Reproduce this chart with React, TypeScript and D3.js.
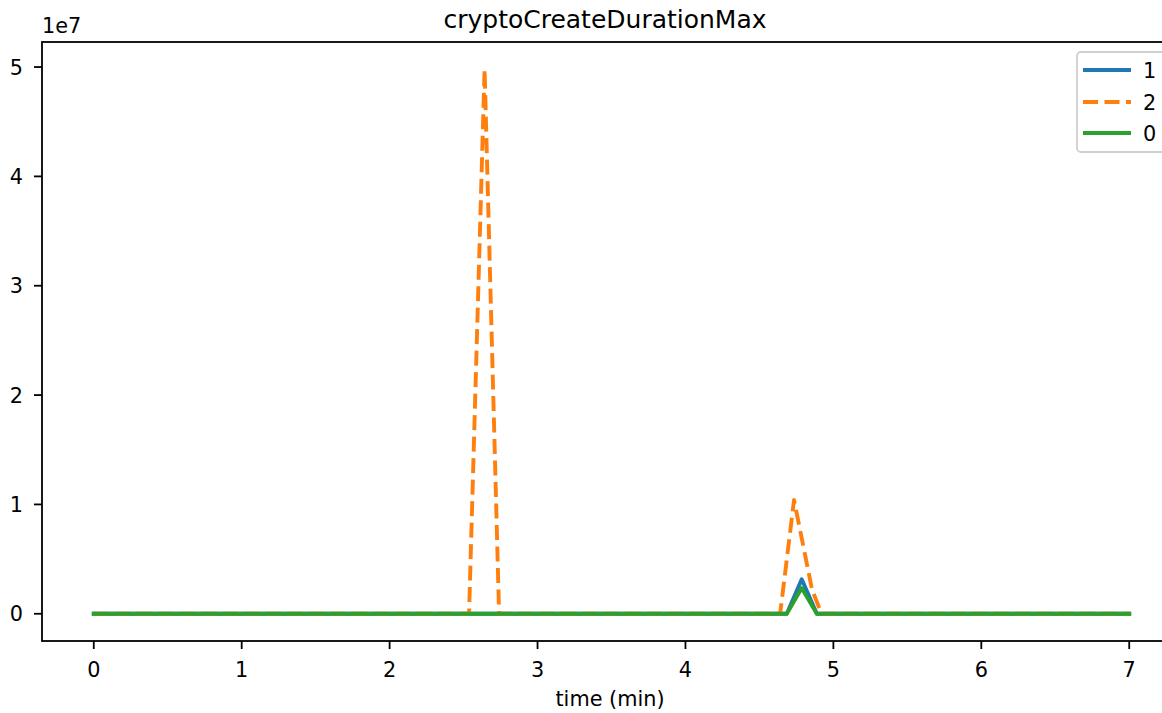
import React from "react";
import * as d3 from "d3";

const W = 1162;
const H = 713;

const xTicks = [0, 1, 2, 3, 4, 5, 6, 7];
const yTicks = [0, 1, 2, 3, 4, 5];

// series "1"
const t1 = [0, 4.685, 4.786, 4.888, 7];
const v1 = [0, 0, 3.15e6, 0, 0];
// series "2"
const t2 = [0, 2.537, 2.642, 2.74, 4.64, 4.734, 4.856, 4.92, 7];
const v2 = [0, 0, 4.98e7, 0, 0, 1.04e7, 2.2e6, 0, 0];
// series "0"
const t0 = [0, 4.685, 4.786, 4.888, 7];
const v0 = [0, 0, 2.35e6, 0, 0];

const labels = ["1", "2", "0"];
const colors = ["#1f77b4", "#ff7f0e", "#2ca02c"];
const dashes = ["none", "15,6.5", "none"];

const FONT = "'DejaVu Sans', sans-serif";

export default function App() {
  const left = 42, right = 1181, top = 42, bottom = 641;
  const x = d3.scaleLinear().domain([-0.35, 7.35]).range([left, right]);
  const yMax = 4.98e7;
  const pad = yMax * 0.05;
  const y = d3.scaleLinear().domain([-pad, yMax + pad]).range([bottom, top]);
  const line = d3
    .line<[number, number]>()
    .x((d) => x(d[0]))
    .y((d) => y(d[1]));
  const series = [
    t1.map((t, i) => [t, v1[i]] as [number, number]),
    t2.map((t, i) => [t, v2[i]] as [number, number]),
    t0.map((t, i) => [t, v0[i]] as [number, number]),
  ];
  const fs = 20.8;
  const legRows = [70, 102, 133];
  return (
    <div style={{ position: "absolute", left: 0, top: 0 }}>
      <svg width={W} height={H} style={{ display: "block", overflow: "hidden" }} fontFamily={FONT}>
        <rect x={0} y={0} width={W} height={H} fill="#fff" />
        <defs>
          <clipPath id="plotclip">
            <rect x={left} y={top} width={right - left} height={bottom - top} />
          </clipPath>
        </defs>
        <g clipPath="url(#plotclip)">
          {series.map((s, i) => (
            <path
              key={i}
              d={line(s) || ""}
              fill="none"
              stroke={colors[i]}
              strokeWidth={3.9}
              strokeDasharray={dashes[i]}
              strokeLinejoin="round"
              strokeLinecap={dashes[i] === "none" ? "square" : "butt"}
            />
          ))}
        </g>
        {/* spines */}
        <rect x={left} y={top} width={right - left} height={bottom - top} fill="none" stroke="#000" strokeWidth={1.8} />
        {/* x ticks */}
        {xTicks.map((t) => (
          <g key={"x" + t}>
            <line x1={x(t)} x2={x(t)} y1={bottom} y2={bottom + 8} stroke="#000" strokeWidth={1.8} />
            <text x={x(t)} y={677} textAnchor="middle" fontSize={fs} fill="#000">
              {t}
            </text>
          </g>
        ))}
        {/* y ticks */}
        {yTicks.map((t) => (
          <g key={"y" + t}>
            <line x1={left - 8} x2={left} y1={y(t * 1e7)} y2={y(t * 1e7)} stroke="#000" strokeWidth={1.8} />
            <text x={23} y={y(t * 1e7) + 7.5} textAnchor="end" fontSize={fs} fill="#000">
              {t}
            </text>
          </g>
        ))}
        <text x={42} y={33} fontSize={fs} fill="#000">1e7</text>
        <text x={610} y={706} textAnchor="middle" fontSize={fs} fill="#000">time (min)</text>
        <text x={605} y={28} textAnchor="middle" fontSize={25} fill="#000">cryptoCreateDurationMax</text>
        {/* legend */}
        <rect x={1077} y={52} width={94} height={100} rx={4} ry={4} fill="#fff" fillOpacity={0.8} stroke="#d0d0d0" strokeWidth={1.8} />
        {labels.map((l, i) => (
          <g key={"l" + l}>
            <line
              x1={1083}
              x2={1131}
              y1={legRows[i]}
              y2={legRows[i]}
              stroke={colors[i]}
              strokeWidth={3.9}
              strokeDasharray={dashes[i]}
            />
            <text x={1143} y={legRows[i] + 7.5} fontSize={fs} fill="#000">
              {l}
            </text>
          </g>
        ))}
      </svg>
    </div>
  );
}
